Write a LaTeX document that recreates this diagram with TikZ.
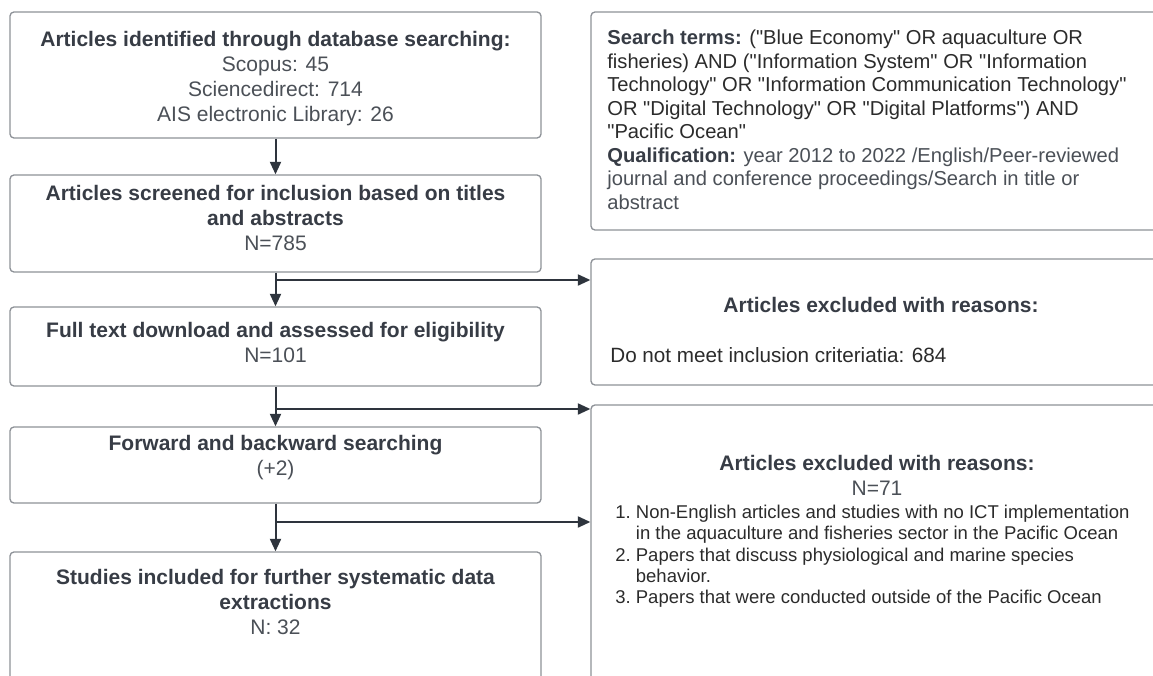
\documentclass[tikz,border=0pt]{standalone}
\usepackage{fontspec}
\setmainfont{Liberation Sans}[Ligatures=TeXOff]
\usetikzlibrary{arrows.meta}
\definecolor{framegray}{HTML}{8E9298}
\definecolor{linkdark}{HTML}{2E343D}
\definecolor{titlegray}{HTML}{373C45}
\definecolor{numgray}{HTML}{4B5057}
\definecolor{plaingray}{HTML}{2B2B2B}
\newcommand{\hd}[1]{\textbf{\color{titlegray}#1}}
\begin{document}
\begin{tikzpicture}[x=0.6pt,y=-0.6pt,
    box/.style={draw=framegray,line width=0.8pt,rounded corners=2.4pt,inner sep=0},
    flow/.style={draw=linkdark,line width=1.2pt,-{Triangle[length=7.5pt,width=6.6pt]}},
    main/.style={align=center,inner sep=0,text=numgray,font=\fontsize{12.6pt}{15pt}\selectfont},
    side/.style={align=left,inner sep=0,anchor=north west}]
\useasboundingbox (0,0) rectangle (1153,675);
\fill[white] (0,0) rectangle (1153,675);
\clip (0,0) rectangle (1153,675);
% left column
\node[box,minimum width=318.6pt,minimum height=75.6pt] (ident) at (275.5,75) {};
\node[box,minimum width=318.6pt,minimum height=58.2pt] (screen) at (275.5,223.5) {};
\node[box,minimum width=318.6pt,minimum height=47.4pt] (full) at (275.5,346.5) {};
\node[box,minimum width=318.6pt,minimum height=45.6pt] (fwd) at (275.5,465) {};
\node[box,minimum width=318.6pt,minimum height=100.8pt] (incl) at (275.5,636) {};
\node[main] (ident-t) at (275.5,79) {\hd{Articles identified through database searching:}\\Scopus: 45\\Sciencedirect: 714\\AIS electronic Library: 26};
\node[main] (screen-t) at (275.5,218) {\hd{Articles screened for inclusion based on titles}\\\hd{and abstracts}\\N=785};
\node[main] (full-t) at (275.5,342.5) {\hd{Full text download and assessed for eligibility}\\N=101};
\node[main] (fwd-t) at (275.5,457.5) {\hd{Forward and backward searching}\\(+2)};
\node[main] (incl-t) at (275.5,602) {\hd{Studies included for further systematic data}\\\hd{extractions}\\N: 32};
% right column
\node[box,minimum width=343.2pt,minimum height=130.8pt] (terms) at (877,121) {};
\node[box,minimum width=343.2pt,minimum height=75.6pt] (exclB) at (877,322) {};
\node[box,minimum width=343.2pt,minimum height=189pt] (exclC) at (877,562.5) {};
\node[side,text=plaingray,font=\fontsize{12.1pt}{14.1pt}\selectfont] (terms-t) at (607,30) {\hd{Search terms:} ("Blue Economy" OR aquaculture OR\\fisheries) AND ("Information System" OR "Information\\Technology" OR "Information Communication Technology"\\OR "Digital Technology" OR "Digital Platforms") AND\\"Pacific Ocean"\\\hd{Qualification:} \textcolor{numgray}{year 2012 to 2022 /English/Peer-reviewed}\\\textcolor{numgray}{journal and conference proceedings/Search in title or}\\\textcolor{numgray}{abstract}};
\node[main] (exclB-h) at (881,305) {\hd{Articles excluded with reasons:}};
\node[anchor=west,inner sep=0,text=plaingray,font=\fontsize{12.4pt}{14pt}\selectfont] (exclB-t) at (610,355) {Do not meet inclusion criteriatia: 684};
\node[main] (exclC-h) at (877,475) {\hd{Articles excluded with reasons:}\\N=71};
\node[side,text=plaingray,font=\fontsize{11.1pt}{12.75pt}\selectfont] (exclC-t) at (615,505) {1.\ Non-English articles and studies with no ICT implementation\\\phantom{1.\ }in the aquaculture and fisheries sector in the Pacific Ocean\\2.\ Papers that discuss physiological and marine species\\\phantom{2.\ }behavior.\\3.\ Papers that were conducted outside of the Pacific Ocean};
% connectors
\coordinate (split1) at (276,280);
\coordinate (split2) at (276,409);
\coordinate (split3) at (276,522);
\draw[flow] (ident) -- (screen);
\draw[flow] (screen) -- (full);
\draw[flow] (full) -- (fwd);
\draw[flow] (fwd) -- (incl);
\draw[flow] (split1) -- (split1 -| exclB.west);
\draw[flow] (split2) -- (split2 -| exclC.west);
\draw[flow] (split3) -- (split3 -| exclC.west);
\end{tikzpicture}
\end{document}
